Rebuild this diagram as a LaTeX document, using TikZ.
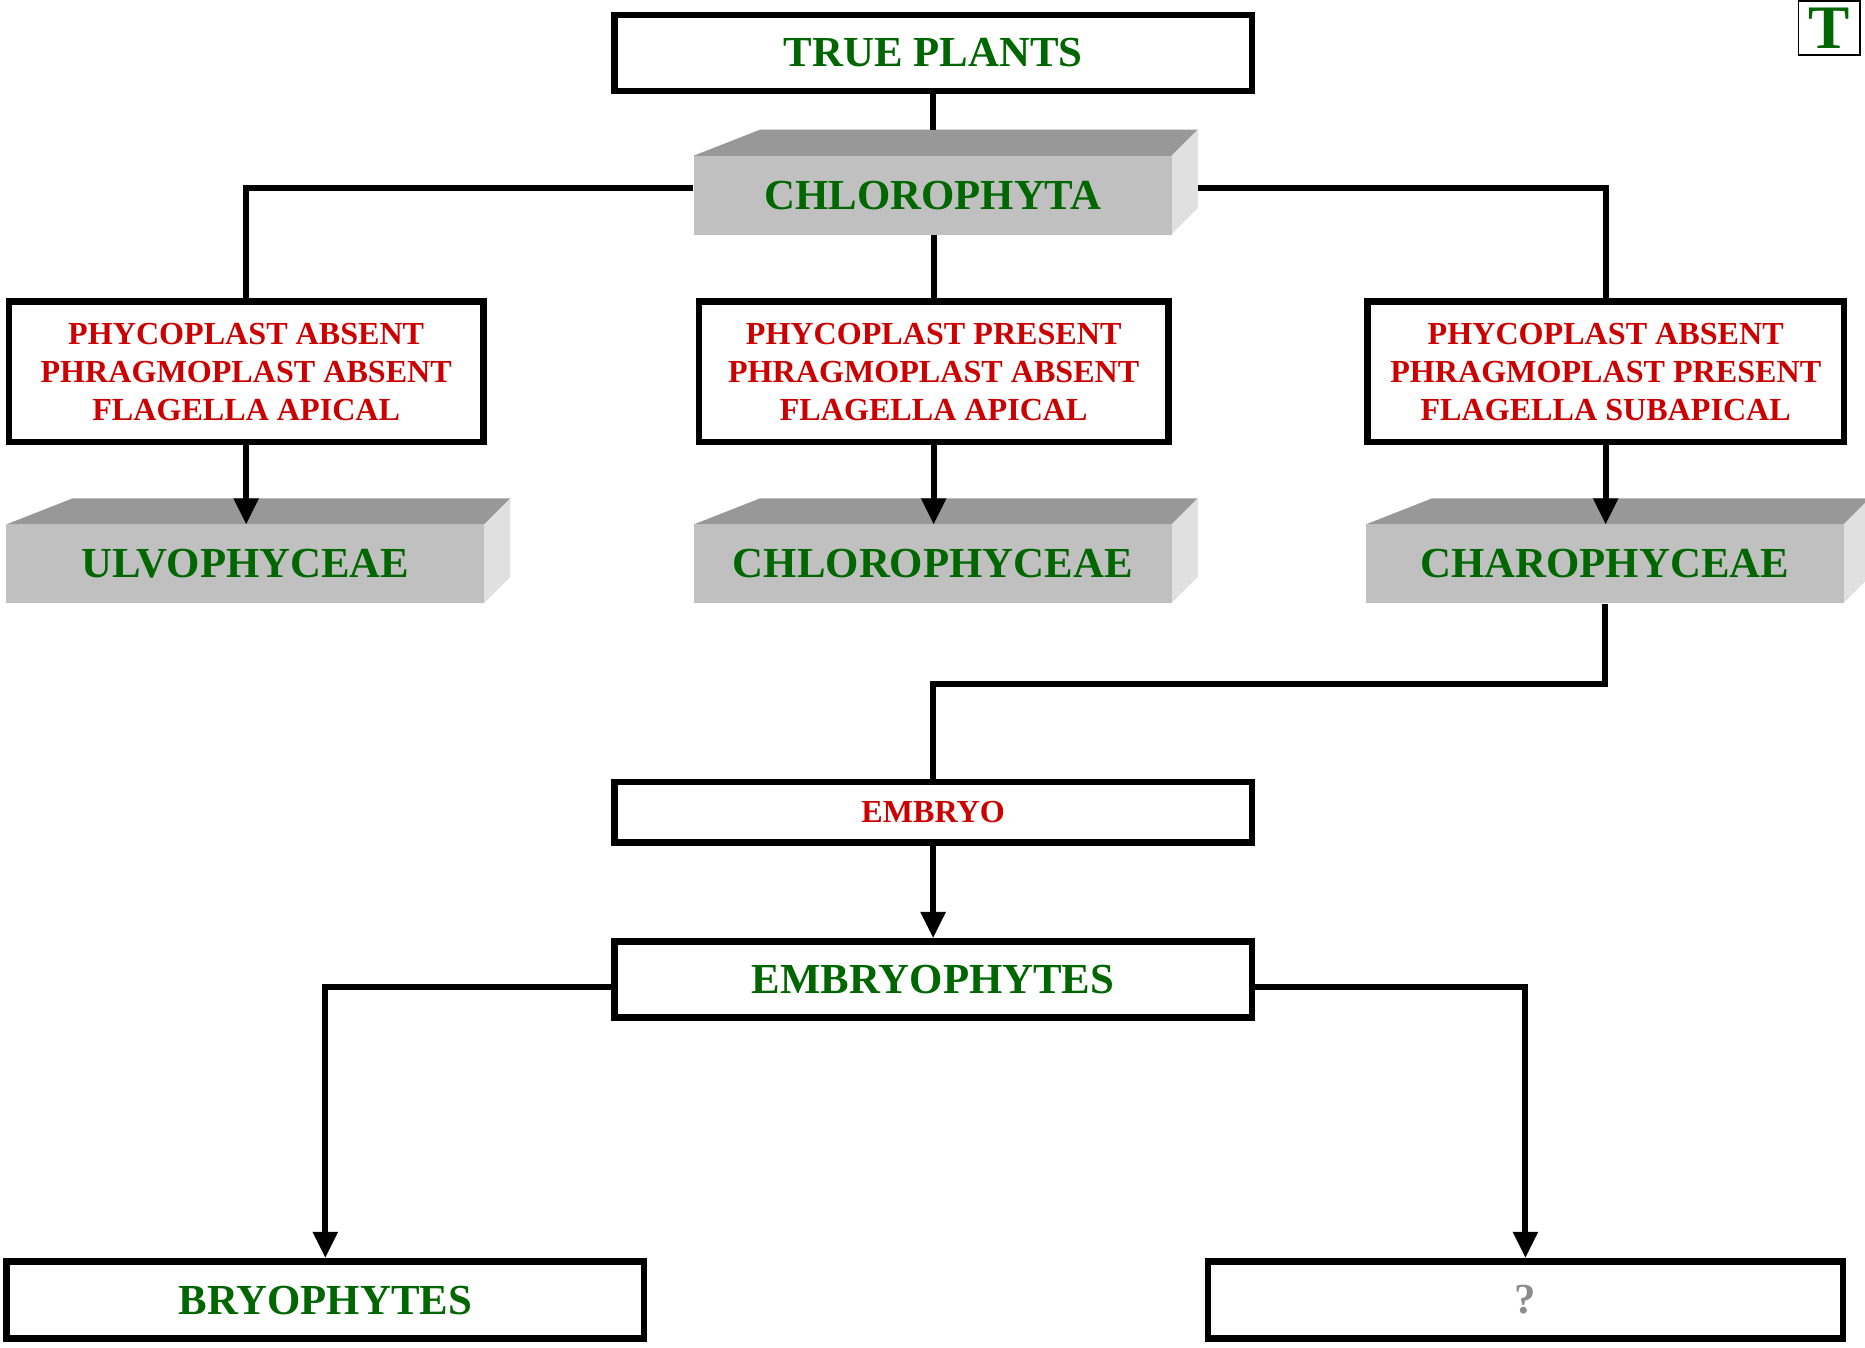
\documentclass[tikz,border=0pt]{standalone}
\usepackage{fontspec}
\setmainfont{Liberation Serif}
\usetikzlibrary{arrows.meta}
\definecolor{tgreen}{RGB}{0,102,0}
\definecolor{tred}{RGB}{204,0,0}
\definecolor{qgray}{RGB}{140,140,140}
\definecolor{facefront}{RGB}{192,192,192}
\definecolor{facetop}{RGB}{152,152,152}
\definecolor{faceside}{RGB}{224,224,224}
\newcommand\slabbox[4]{%
  \fill[facetop] (#2,#3) -- (#2+56,#3-22) -- (#2+424,#3-22) -- (#2+402,#3) -- cycle;
  \fill[faceside] (#2+402,#3) -- (#2+424,#3-22) -- (#2+424,#3+44) -- (#2+402,#3+66) -- cycle;
  \node[slabfront, greentext, minimum width=402pt, minimum height=66pt, anchor=north west] (#1) at (#2,#3) {#4};
}
\begin{document}
\begin{tikzpicture}[x=1pt,y=-1pt,
  box/.style={draw=black,line width=5.5pt,fill=white,inner sep=0pt,align=center},
  slabfront/.style={fill=facefront,inner sep=0pt},
  greentext/.style={text=tgreen,font=\fontsize{36}{40}\selectfont\bfseries},
  redtext/.style={text=tred,font=\fontsize{27}{32}\selectfont\bfseries},
  link/.style={line width=5pt},
  arrowlink/.style={line width=5pt,-{Triangle[width=20pt,length=22pt]}}
]
\useasboundingbox (0,0) rectangle (1568,1132.5);

% top
\node[box,greentext,minimum width=536pt,minimum height=64pt] (tp) at (784.5,44.5) {TRUE PLANTS};
\node[draw=black,line width=1.5pt,inner sep=0pt,minimum width=52pt,minimum height=45pt,text=tgreen,font=\fontsize{52}{52}\selectfont\bfseries] (tl) at (1538,23.5) {T};

% slabs
\slabbox{ch}{583}{131}{CHLOROPHYTA}
\slabbox{ulvo}{5}{441}{ULVOPHYCEAE}
\slabbox{chlc}{583}{441}{CHLOROPHYCEAE}
\slabbox{charo}{1148}{441}{CHAROPHYCEAE}
\coordinate (chtop) at (784.5,109);
\coordinate (chl) at (583,158);
\coordinate (chr) at (1007,158);

% condition boxes
\node[box,redtext,minimum width=399pt,minimum height=118pt] (c1) at (207,312.5) {PHYCOPLAST ABSENT\\PHRAGMOPLAST ABSENT\\FLAGELLA APICAL};
\node[box,redtext,minimum width=395pt,minimum height=118pt] (c2) at (785,312.5) {PHYCOPLAST PRESENT\\PHRAGMOPLAST ABSENT\\FLAGELLA APICAL};
\node[box,redtext,minimum width=401pt,minimum height=118pt] (c3) at (1350,312.5) {PHYCOPLAST ABSENT\\PHRAGMOPLAST PRESENT\\FLAGELLA SUBAPICAL};

% lower boxes
\node[box,redtext,minimum width=536pt,minimum height=51pt] (em) at (784.5,683) {EMBRYO};
\node[box,greentext,minimum width=536pt,minimum height=64pt] (eph) at (784.5,823.5) {EMBRYOPHYTES};
\node[box,greentext,minimum width=536pt,minimum height=65pt] (bryo) at (273.5,1093) {BRYOPHYTES};
\node[box,greentext,text=qgray,minimum width=534pt,minimum height=65pt] (q) at (1282.5,1093) {?};

% connectors
\draw[link] (tp.south) -- (tp.south |- chtop);
\draw[link] (chl) -| (c1.north);
\draw[link] (chr) -| (c3.north);
\draw[link] (c2.north |- ch.south) -- (c2.north);
\draw[arrowlink] (c1.south) -- (c1.south |- ulvo.north);
\draw[arrowlink] (c2.south) -- (c2.south |- chlc.north);
\draw[arrowlink] (c3.south) -- (c3.south |- charo.north);
\draw[link] (charo.south) -- ++(0,68) -| (em.north);
\draw[arrowlink] (em.south) -- (eph.north);
\draw[arrowlink] ([yshift=-6pt]eph.west) -| (bryo.north);
\draw[arrowlink] ([yshift=-6pt]eph.east) -| (q.north);
\end{tikzpicture}
\end{document}
